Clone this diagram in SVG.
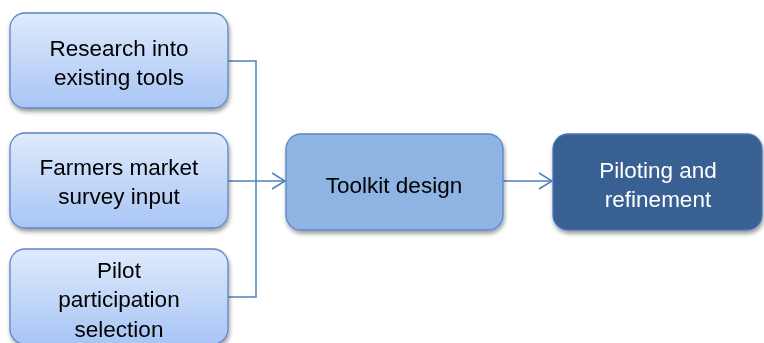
<svg xmlns="http://www.w3.org/2000/svg" width="764" height="343" viewBox="0 0 764 343">
<style>
.t{font-family:"Liberation Sans",Arial,sans-serif;font-size:22.5px;text-anchor:middle;fill:#000}
.w{fill:#fff}
.lb{fill:url(#g);stroke:#5b87c5;stroke-width:1.3}
.mb{fill:#8eb4e3;stroke:#5b87c5;stroke-width:1.3}
.db{fill:#376093;stroke:#4a78b8;stroke-width:1.3}
.c{fill:none;stroke:#4f81bd;stroke-width:1.5}
</style>
<defs>
<linearGradient id="g" x1="0" y1="0" x2="0" y2="1">
<stop offset="0" stop-color="#dfeafc"/>
<stop offset="1" stop-color="#a8c5f5"/>
</linearGradient>
<filter id="s" x="-10%" y="-10%" width="130%" height="140%">
<feGaussianBlur in="SourceAlpha" stdDeviation="2"/>
<feOffset dx="1" dy="3" result="b"/>
<feComponentTransfer><feFuncA type="linear" slope="0.4"/></feComponentTransfer>
<feMerge><feMergeNode/><feMergeNode in="SourceGraphic"/></feMerge>
</filter>
<marker id="a" markerWidth="16" markerHeight="18" refX="14" refY="9" orient="auto" markerUnits="userSpaceOnUse">
<path d="M1,1 L14,9 L1,17" fill="none" stroke="#4f81bd" stroke-width="1.5"/>
</marker>
</defs>
<g id="connectors">
<path class="c" d="M228,61 H256 V297 H228"/>
<path class="c" d="M228,181 H285" marker-end="url(#a)"/>
<path class="c" d="M503,181 H552" marker-end="url(#a)"/>
</g>
<g id="n1" filter="url(#s)">
<rect class="lb" x="10" y="13" width="218" height="95" rx="15"/>
<text class="t" x="119" y="56">Research into</text>
<text class="t" x="119" y="85">existing tools</text>
</g>
<g id="n2" filter="url(#s)">
<rect class="lb" x="10" y="133" width="218" height="95" rx="15"/>
<text class="t" x="119" y="175">Farmers market</text>
<text class="t" x="119" y="204">survey input</text>
</g>
<g id="n3" filter="url(#s)">
<rect class="lb" x="10" y="249" width="218" height="95" rx="15"/>
<text class="t" x="119" y="278">Pilot</text>
<text class="t" x="119" y="307">participation</text>
<text class="t" x="119" y="337">selection</text>
</g>
<g id="n4" filter="url(#s)">
<rect class="mb" x="286" y="134" width="217" height="96" rx="15"/>
<text class="t" x="394" y="193">Toolkit design</text>
</g>
<g id="n5" filter="url(#s)">
<rect class="db" x="553" y="134" width="209" height="96" rx="15"/>
<text class="t w" x="658" y="178">Piloting and</text>
<text class="t w" x="658" y="207">refinement</text>
</g>
</svg>
